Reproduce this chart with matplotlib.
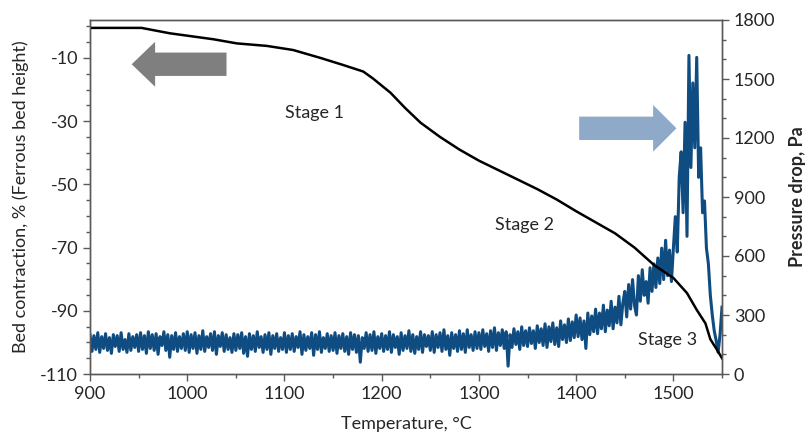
import numpy as np
import matplotlib
matplotlib.use("Agg")
import matplotlib.pyplot as plt
from matplotlib.ticker import MultipleLocator, FixedLocator
from matplotlib.patches import FancyArrow

plt.rcParams["font.family"] = ["Lato", "DejaVu Sans"]
plt.rcParams["axes.unicode_minus"] = False

# bed contraction curve (left axis)
contraction_temp = [900, 953, 982, 1027, 1051, 1082, 1109, 1137, 1160, 1181, 1191,
                    1209, 1224, 1240, 1260, 1280, 1300, 1320, 1340, 1360, 1380,
                    1400, 1420, 1440, 1460, 1480, 1500, 1514, 1524, 1533, 1538,
                    1545, 1550]
contraction = [-0.5, -0.5, -2.2, -4.1, -5.4, -6.2, -7.5, -10.0, -12.2, -14.3, -16.5,
               -21.0, -25.8, -30.5, -35.0, -39.0, -42.5, -45.5, -48.5, -51.5, -54.8,
               -58.5, -62.0, -65.5, -70.0, -75.5, -79.6, -84.4, -89.7, -94.0, -99.0,
               -102.4, -105.0]

# pressure drop (right axis), sampled every 2 degC from 900 to 1550
pressure_temp = np.arange(900, 1551, 2)
pressure = [
    200, 115, 195, 125, 210, 110, 190, 130, 205, 120, 185, 105, 200, 140, 195, 115, 210, 125, 175, 110, 205, 120, 190, 135, 200,
    115, 210, 125, 195, 105, 215, 130, 200, 120, 205, 100, 190, 145, 215, 120, 200, 85, 195, 125, 210, 115, 190, 130, 205, 120,
    215, 110, 200, 130, 210, 105, 195, 125, 220, 115, 190, 135, 205, 120, 215, 100, 195, 140, 210, 115, 200, 125, 185, 110, 205,
    120, 200, 130, 210, 105, 190, 90, 205, 125, 195, 115, 215, 135, 190, 110, 200, 125, 210, 100, 195, 130, 205, 115, 185, 125,
    210, 110, 195, 125, 205, 115, 190, 135, 215, 100, 200, 120, 190, 130, 210, 95, 200, 125, 215, 110, 185, 130, 205, 115, 195,
    120, 210, 105, 195, 130, 205, 115, 190, 100, 210, 125, 200, 110, 195, 60, 185, 130, 210, 115, 200, 120, 215, 105, 190, 130,
    205, 115, 195, 125, 215, 110, 200, 135, 190, 100, 210, 120, 195, 130, 220, 115, 200, 105, 190, 125, 215, 110, 200, 140, 195,
    120, 215, 110, 200, 135, 210, 115, 225, 125, 195, 95, 210, 130, 200, 115, 220, 125, 205, 110, 225, 135, 200, 120, 215, 130,
    210, 125, 225, 140, 205, 115, 220, 135, 235, 120, 210, 145, 225, 130, 215, 40, 200, 135, 230, 150, 215, 125, 240, 145, 220,
    140, 235, 155, 220, 130, 245, 160, 230, 145, 255, 135, 240, 165, 260, 150, 235, 140, 270, 175, 250, 160, 280, 170, 265, 185,
    300, 190, 285, 175, 270, 130, 310, 200, 295, 215, 330, 205, 310, 230, 350, 215, 325, 245, 370, 230, 340, 260, 395, 250, 360,
    420, 290, 455, 330, 480, 350, 300, 500, 370, 530, 400, 470, 360, 540, 420, 560, 440, 590, 460, 640, 480, 680, 500, 630, 470,
    640, 800, 620, 1000, 1130, 820, 1280, 700, 1620, 1050, 1480, 1150, 1610, 1000, 1150, 820, 880, 640, 560, 400, 300, 220, 170, 110, 200,
    340,
]

x_ticks = [900, 1000, 1100, 1200, 1300, 1400, 1500]
left_ticks = [-110, -90, -70, -50, -30, -10]

TEXT = "#262626"
SPINE = "#595959"

fig, ax = plt.subplots(figsize=(8.06, 4.36), dpi=100)
fig.subplots_adjust(left=90 / 806, right=722 / 806, top=1 - 20 / 436, bottom=1 - 374 / 436)
ax2 = ax.twinx()

ax2.plot(pressure_temp, pressure, color="#0f4c81", lw=2.2)
ax.plot(contraction_temp, contraction, color="black", lw=1.8)

# keep the black curve above the blue one
ax.set_zorder(ax2.get_zorder() + 1)
ax.patch.set_visible(False)

ax.set_xlim(900, 1550)
ax.set_ylim(-110, 2)
ax2.set_ylim(0, 1800)

ax.xaxis.set_major_locator(FixedLocator(x_ticks))
ax.xaxis.set_minor_locator(MultipleLocator(50))
ax.yaxis.set_major_locator(FixedLocator(left_ticks))
ax.yaxis.set_minor_locator(MultipleLocator(5))
ax2.yaxis.set_major_locator(MultipleLocator(300))
ax2.yaxis.set_minor_locator(MultipleLocator(100))

for a in (ax, ax2):
    a.tick_params(which="major", length=5, width=1, color=SPINE, labelsize=13, labelcolor=TEXT, direction="out")
    a.tick_params(which="minor", length=3, width=1, color=SPINE, direction="out")
    for s in a.spines.values():
        s.set_color(SPINE)
        s.set_linewidth(1)

ax.set_xlabel("Temperature, \u00b0C", fontsize=13, color=TEXT, labelpad=10)
ax.set_ylabel("Bed contraction, % (Ferrous bed height)", fontsize=13, color=TEXT, labelpad=8)
ax2.set_ylabel("Pressure drop, Pa", fontsize=13, color=TEXT, fontweight="bold", labelpad=10)

ax.text(1131, -27.4, "Stage 1", fontsize=13, color=TEXT, ha="center", va="center")
ax.text(1347, -62.8, "Stage 2", fontsize=13, color=TEXT, ha="center", va="center")
ax.text(1494, -99.2, "Stage 3", fontsize=13, color=TEXT, ha="center", va="center")

# direction arrows
ax.add_patch(FancyArrow(0.216, 0.875, -0.150, 0, width=0.066, head_width=0.127,
                        head_length=0.037, length_includes_head=True,
                        transform=ax.transAxes, color="#7f7f7f", lw=0, zorder=0))
ax.add_patch(FancyArrow(0.774, 0.694, 0.154, 0, width=0.066, head_width=0.132,
                        head_length=0.037, length_includes_head=True,
                        transform=ax.transAxes, color="#8eaac8", lw=0, zorder=0))

fig.savefig("out.png", dpi=100)
